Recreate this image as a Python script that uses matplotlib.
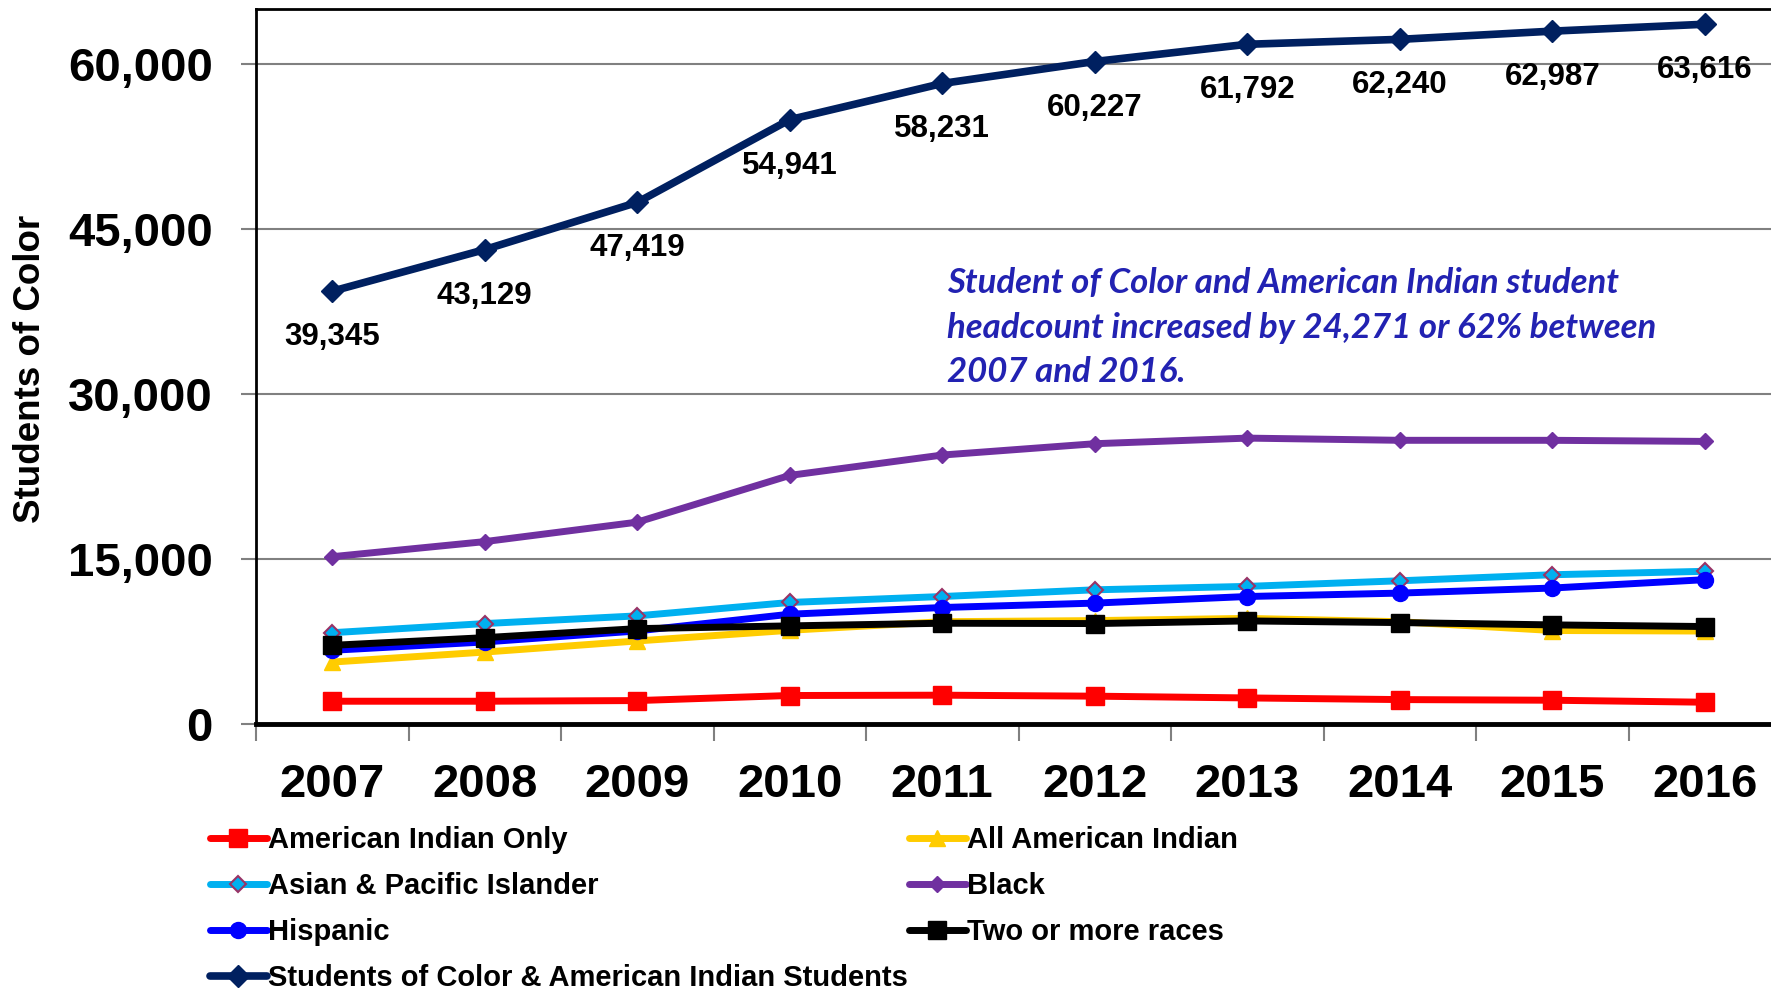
import matplotlib
matplotlib.use("Agg")
import matplotlib.pyplot as plt
from matplotlib.ticker import FixedLocator, FuncFormatter

years = ["2007", "2008", "2009", "2010", "2011", "2012", "2013", "2014", "2015", "2016"]
ai_only = [2070, 2070, 2130, 2590, 2620, 2530, 2370, 2220, 2160, 1980]
all_ai = [5630, 6540, 7550, 8520, 9300, 9400, 9600, 9300, 8500, 8450]
asian = [8300, 9130, 9830, 11050, 11590, 12200, 12510, 13020, 13570, 13880]
black = [15210, 16580, 18350, 22600, 24450, 25480, 25990, 25790, 25790, 25690]
hispanic = [6700, 7460, 8460, 9980, 10590, 10990, 11590, 11900, 12360, 13120]
two_more = [7150, 7850, 8670, 8920, 9160, 9130, 9370, 9220, 9010, 8860]
total = [39345, 43129, 47419, 54941, 58231, 60227, 61792, 62240, 62987, 63616]

yticks = [0, 15000, 30000, 45000, 60000]
note_lines = ["Student of Color and American Indian student",
              "headcount increased by 24,271 or 62% between",
              "2007 and 2016."]

W, H = 1771, 994
fig = plt.figure(figsize=(W / 100, H / 100), dpi=100)
plt.rcParams['font.family'] = ['Liberation Sans', 'DejaVu Sans']
ax = fig.add_axes([256 / W, 1 - 724 / H, (1781 - 256) / W, (724 - 9) / H])

x = list(range(len(years)))
lw = 5
series = [
    ("American Indian Only", ai_only, dict(color="#FF0000", marker="s", ms=12.5, mfc="#FF0000", mec="#FF0000")),
    ("All American Indian", all_ai, dict(color="#FFCC00", marker="^", ms=12, mfc="#FFCC00", mec="#FFCC00")),
    ("Asian & Pacific Islander", asian, dict(color="#00B0F0", marker="D", ms=8, mfc="#00B0F0", mec="#993366", mew=1.5)),
    ("Black", black, dict(color="#7030A0", marker="D", ms=8.5, mfc="#7030A0", mec="#7030A0")),
    ("Hispanic", hispanic, dict(color="#0000FF", marker="o", ms=11.5, mfc="#0000FF", mec="#0000FF")),
    ("Two or more races", two_more, dict(color="#000000", marker="s", ms=12.5, mfc="#000000", mec="#000000")),
    ("Students of Color & American Indian Students", total, dict(color="#002060", marker="D", ms=11.5, mfc="#002060", mec="#002060")),
]
handles = {}
for name, vals, st in series:
    lwv = 5.5 if name.startswith("Students") else lw
    h, = ax.plot(x, vals, lw=lwv, label=name, solid_capstyle="round", **st)
    handles[name] = h

for xi, v in zip(x, total):
    ax.annotate(f"{v:,}", (xi, v), xytext=(0, -54), textcoords="offset pixels",
                ha="center", va="baseline", fontsize=22.5, fontweight="bold", color="black")

ax.set_xlim(-0.5, len(years) - 0.5)
ax.set_ylim(0, 65000)
ax.yaxis.set_major_locator(FixedLocator(yticks))
ax.yaxis.set_major_formatter(FuncFormatter(lambda v, p: f"{int(v):,}"))
ax.grid(axis="y", color="#808080", lw=1.5)
ax.set_axisbelow(True)
ax.tick_params(axis="y", direction="out", length=11, width=1.5, color="#808080",
               pad=20, labelsize=34)
for t in ax.get_yticklabels():
    t.set_fontweight("bold")
ax.set_xticks(x)
ax.set_xticklabels(years, fontsize=34, fontweight="bold")
ax.tick_params(axis="x", which="major", length=0, pad=28)
ax.set_xticks([i + 0.5 for i in range(-1, len(years))], minor=True)
ax.tick_params(axis="x", which="minor", direction="out", length=12, width=1.5, color="#808080")

for s in ["left", "top", "right"]:
    ax.spines[s].set_linewidth(2)
    ax.spines[s].set_color("black")
ax.spines["bottom"].set_linewidth(3.5)
ax.spines["bottom"].set_color("black")

fig.text(31 / W, 1 - 369 / H, "Students of Color", rotation=90, ha="center", va="center",
         fontsize=26.5, fontweight="bold")

for i, (line, yb) in enumerate(zip(note_lines, [293, 338, 382])):
    fig.text(947 / W, 1 - yb / H, line, ha="left", va="baseline", fontsize=25,
             fontweight="bold", fontstyle="italic", color="#2222B2", family=["Lato", "DejaVu Sans"])

col1 = ["American Indian Only", "Asian & Pacific Islander", "Hispanic",
        "Students of Color & American Indian Students"]
col2 = ["All American Indian", "Black", "Two or more races"]
common = dict(frameon=False, handlelength=1.95, handletextpad=0.03,
              labelspacing=0.62, borderpad=0, borderaxespad=0, numpoints=1,
              prop=dict(weight="bold", size=21))
leg1 = fig.legend([handles[n] for n in col1], col1, loc="upper left",
                  bbox_to_anchor=(210 / W, 1 - 826 / H), **common)
leg2 = fig.legend([handles[n] for n in col2], col2, loc="upper left",
                  bbox_to_anchor=(909 / W, 1 - 826 / H), **common)

fig.savefig("out.png", dpi=100)
